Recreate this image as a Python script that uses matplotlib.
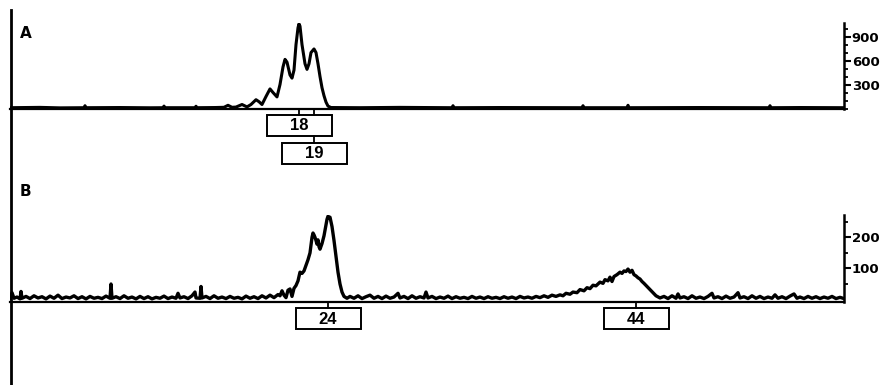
import matplotlib
matplotlib.use("Agg")
import matplotlib.pyplot as plt
from matplotlib.patches import Rectangle
from matplotlib.lines import Line2D
from matplotlib.ticker import FixedLocator, MultipleLocator
import matplotlib.transforms as mtransforms

# ---------------- data ----------------
trace_a_x = [10, 40, 60, 84, 85, 86, 120, 150, 163, 164, 165, 195, 196, 197, 215, 224, 228, 232,
             236, 242, 247, 251, 256, 259, 262, 266, 270, 273, 277, 280, 283, 285, 287, 290, 292,
             294, 296, 298, 299, 300, 302, 305, 307, 309, 311, 314, 316, 318, 320, 322, 324, 326,
             328, 331, 360, 400, 452, 453, 454, 500, 582, 583, 584, 627, 628, 629, 700, 769, 770,
             771, 800, 843]
trace_a_y = [10, 14, 8, 10, 35, 10, 12, 9, 10, 30, 10, 10, 28, 10, 12, 15, 40, 15,
             18, 50, 20, 50, 110, 85, 50, 150, 245, 200, 145, 300, 520, 615, 580, 420, 380,
             480, 800, 1010, 1060, 1030, 800, 560, 490, 560, 700, 745, 700, 560, 400, 260, 160, 80,
             30, 12, 10, 14, 10, 35, 10, 12, 10, 35, 10, 10, 40, 10, 12, 10, 35,
             10, 12, 10]

# panel B: left baseline, peak "24", middle baseline, peak "44", right baseline
trace_b_x = [10, 12, 14, 17, 20, 21, 22, 26, 30, 34, 38, 42, 46, 50, 54, 58, 62, 66, 70, 74, 78,
             82, 86, 90, 94, 98, 102, 106, 110, 111, 112, 116, 120, 124, 128, 132, 136, 140, 144,
             148, 152, 156, 160, 164, 168, 172, 176, 178, 180, 184, 188, 192, 195, 196, 200, 201,
             202, 206, 210, 214, 218, 222, 226, 230, 234, 238, 242, 246, 250, 254, 258, 262, 266,
             270, 274, 278,
             280, 282, 284, 286, 288, 290, 292, 294, 296, 298, 300, 302, 304, 306, 308, 310, 311,
             312, 313, 314, 315, 316, 317, 318, 319, 320, 322, 324, 326, 327, 328, 329, 330, 332,
             334, 336, 338, 340, 342, 344, 347,
             350, 354, 358, 362, 366, 370, 374, 378, 382, 386, 390, 394, 398, 400, 404, 408, 412,
             416, 420, 424, 426, 428, 432, 436, 440, 444, 448, 452, 456, 460, 464, 468, 472, 476,
             480, 484, 488, 492, 496, 500, 504, 508, 512, 516, 520, 524, 528, 532, 536, 540, 544,
             548, 552,
             556, 560, 563, 566, 570, 573, 577, 580, 584, 587, 590, 593, 596, 600, 603, 605, 608,
             610, 612, 614, 617, 620, 622, 624, 626, 628, 630, 632, 634, 636, 638, 640, 642, 644,
             647, 650, 653, 656, 660,
             664, 668, 672, 676, 678, 680, 684, 688, 692, 696, 700, 704, 708, 712, 714, 718, 722,
             726, 730, 734, 738, 740, 744, 748, 752, 756, 760, 764, 768, 772, 775, 778, 782, 786,
             790, 794, 797, 800, 804, 808, 812, 816, 820, 824, 828, 832, 836, 840, 843]
trace_b_y = [3, 22, 4, 8, 2, 26, 4, 10, 3, 12, 5, 9, 2, 11, 4, 14, 3, 8, 5, 12, 3,
             9, 2, 10, 4, 7, 3, 11, 4, 50, 4, 9, 3, 12, 4, 8, 2, 10, 3,
             9, 2, 7, 4, 11, 3, 8, 4, 20, 5, 9, 3, 12, 24, 5, 4, 42,
             5, 10, 3, 12, 4, 8, 3, 10, 4, 7, 2, 11, 4, 9, 3, 12, 5,
             14, 6, 16,
             12, 28, 14, 6, 30, 34, 10, 36, 45, 60, 88, 84, 92, 110, 128, 150, 175,
             200, 214, 208, 200, 190, 178, 192, 170, 162, 180, 205, 240, 258, 268, 262, 265, 235,
             190, 140, 88, 50, 24, 10, 4,
             10, 4, 12, 3, 9, 14, 4, 10, 3, 11, 4, 8, 20, 5, 10, 3, 12,
             4, 9, 5, 24, 5, 10, 3, 8, 4, 11, 3, 9, 4, 7, 3, 10, 4,
             8, 3, 9, 4, 7, 3, 9, 4, 8, 3, 10, 5, 8, 4, 10, 6, 12,
             7, 14,
             10, 15, 12, 20, 17, 24, 22, 32, 28, 38, 35, 46, 44, 56, 52, 64, 60,
             72, 58, 74, 80, 88, 84, 92, 90, 98, 88, 94, 80, 76, 70, 66, 58, 52,
             42, 32, 22, 12, 5,
             10, 3, 12, 4, 18, 5, 9, 3, 12, 4, 8, 3, 10, 20, 5, 9, 3,
             11, 4, 8, 22, 5, 9, 3, 12, 4, 10, 3, 8, 4, 15, 4, 9, 3,
             11, 18, 4, 8, 3, 10, 4, 9, 3, 8, 4, 10, 3, 7, 4]

labels_a = ["18", "19"]
label_pos_a = [299, 314]
labels_b = ["24", "44"]
label_pos_b = [328, 636]

yticks_a = [300, 600, 900]
yticks_b = [100, 200]

# ---------------- figure ----------------
W, H = 888, 385
fig = plt.figure(figsize=(W / 100, H / 100), dpi=100)
fig.patch.set_facecolor("white")


def rect(x0, x1, ytop, ybot):
    return [x0 / W, 1 - ybot / H, (x1 - x0) / W, (ybot - ytop) / H]


def fy(ypix):
    return 1 - ypix / H


axA = fig.add_axes(rect(10, 843.5, 23, 108.5))
axB = fig.add_axes(rect(10, 843.5, 215, 302))

for ax in (axA, axB):
    ax.set_xlim(10, 843.5)
    ax.set_facecolor("none")
    for s in ("top", "left"):
        ax.spines[s].set_visible(False)
    ax.spines["right"].set_linewidth(1.8)
    ax.spines["bottom"].set_linewidth(1.6)
    ax.set_xticks([])
    ax.yaxis.tick_right()
    ax.tick_params(axis="y", which="major", direction="out", length=5, width=1.5, pad=1)
    ax.tick_params(axis="y", which="minor", direction="out", length=3, width=1.3)

axA.plot(trace_a_x, trace_a_y, color="black", lw=2.2, solid_joinstyle="round")
axA.set_ylim(0, 1070)
axA.yaxis.set_major_locator(FixedLocator(yticks_a))
axA.yaxis.set_minor_locator(MultipleLocator(100))
axA.set_yticklabels([str(v) for v in yticks_a], fontweight="bold", fontsize=9.5)

axB.plot(trace_b_x, trace_b_y, color="black", lw=2.4, solid_joinstyle="round")
axB.set_ylim(-8, 272)
axB.yaxis.set_major_locator(FixedLocator(yticks_b))
axB.yaxis.set_minor_locator(FixedLocator([50, 150, 250]))
axB.set_yticklabels([str(v) for v in yticks_b], fontweight="bold", fontsize=9.5)

# left vertical line spanning both panels
fig.add_artist(Line2D([10.5 / W, 10.5 / W], [0, fy(10)], color="black", lw=2.0,
                      transform=fig.transFigure))

# panel letters
fig.text(20 / W, fy(33), "A", fontsize=11, fontweight="bold", ha="left", va="center")
fig.text(20 / W, fy(191), "B", fontsize=11, fontweight="bold", ha="left", va="center")

label_font = dict(family=["Liberation Sans", "DejaVu Sans"], fontsize=12, fontweight="bold")
BOX_W = 65
BOX_H = 21


def draw_box(ax, pos, text, top_pix, link_from):
    tr = mtransforms.blended_transform_factory(ax.transData, fig.transFigure)
    fig.add_artist(Rectangle((pos - BOX_W / 2, fy(top_pix + BOX_H)), BOX_W, BOX_H / H,
                             transform=tr, fill=False, lw=1.4, ec="black"))
    fig.add_artist(Line2D([pos, pos], [fy(link_from), fy(top_pix)], transform=tr,
                          color="black", lw=1.3))
    fig.text(pos, fy(top_pix + BOX_H / 2 + 0.5), text, transform=tr, ha="center",
             va="center", **label_font)


# panel A labels
draw_box(axA, label_pos_a[0], labels_a[0], 115, 108.5)
draw_box(axA, label_pos_a[1], labels_a[1], 143, 136)
trA = mtransforms.blended_transform_factory(axA.transData, fig.transFigure)
fig.add_artist(Line2D([label_pos_a[1], label_pos_a[1]], [fy(108.5), fy(115)], transform=trA,
                      color="black", lw=1.3))

# panel B labels
for p, t in zip(label_pos_b, labels_b):
    draw_box(axB, p, t, 308, 302)

fig.savefig("out.png", dpi=100, facecolor="white")
